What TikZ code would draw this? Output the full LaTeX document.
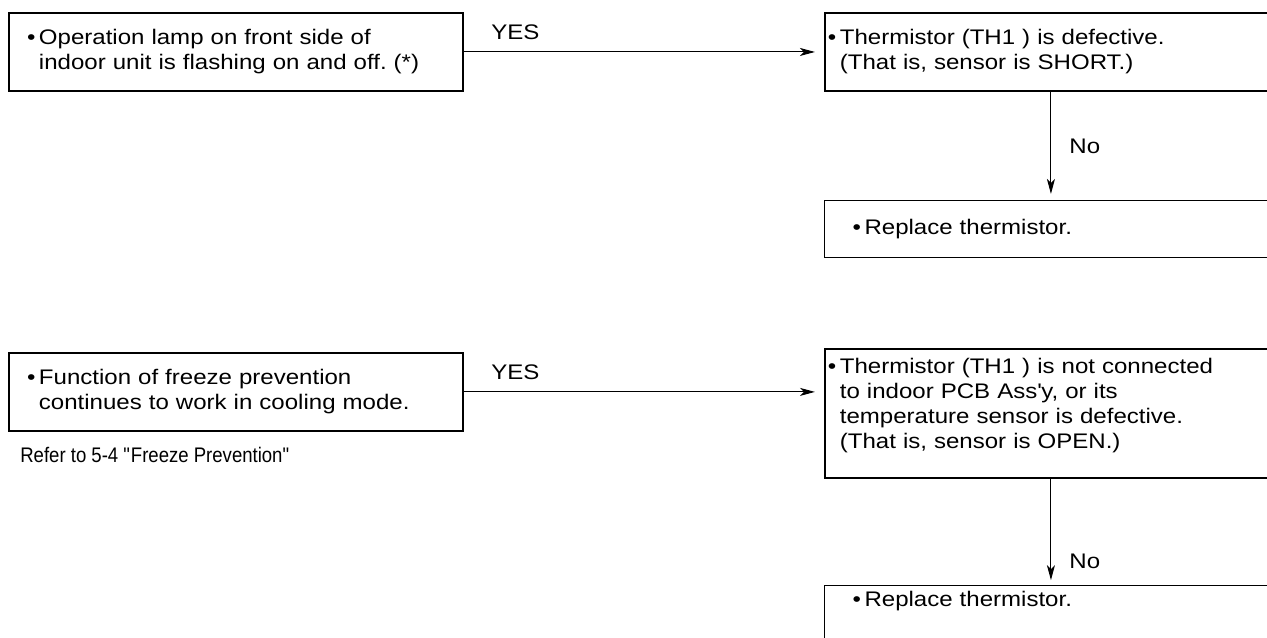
\documentclass[tikz,border=0pt]{standalone}
\usepackage{fontspec}
\setmainfont{Liberation Sans}[FakeStretch=1.14]
\newfontfamily\notefont{Liberation Sans}[FakeStretch=0.88]
\usetikzlibrary{arrows.meta,positioning}
\frenchspacing
\newcommand{\bodyfont}{\fontsize{12pt}{14.2pt}\selectfont}
\newcommand{\bul}{\llap{\textbullet\hspace{2pt}}}
\tikzset{
  >={Stealth[length=3mm,width=1.6mm,inset=0.8mm]},
  box/.style={draw,line width=1.1pt,align=left,font=\bodyfont,inner ysep=0.18cm},
  lbox/.style={box,text width=7.88cm,inner xsep=0.6cm,minimum height=1.56cm},
  rbox/.style={box,text width=12cm,inner xsep=0.3cm},
  abox/.style={box,line width=0.7pt,text width=12cm,inner xsep=0.8cm},
  lab/.style={font=\bodyfont,inner sep=0pt},
  arr/.style={->,line width=0.55pt},
}

\begin{document}
\begin{tikzpicture}
\useasboundingbox (0,0) rectangle (25.34,-12.76);
\clip (0,0) rectangle (25.34,-12.76);
% upper chart: sensor short
\node[lbox,anchor=north west] (lamp) at (0.16,-0.24) {\bul Operation lamp on front side of\\indoor unit is flashing on and off. (*)};
\node[rbox,minimum height=1.56cm,right=7.2cm of lamp] (short) {\bul Thermistor (TH1 ) is defective.\\(That is, sensor is SHORT.)};
\node[abox,minimum height=1.14cm,below=2.16cm of short.south west,anchor=north west] (rep1) {\bul Replace thermistor.};
\draw[arr,shorten >=0.18cm] (lamp) -- node[lab,pos=0,anchor=south west,xshift=0.54cm,yshift=0.24cm] (yes1) {YES} (short);
\draw[arr,shorten >=0.12cm] ([xshift=4.54cm]short.south west) -- node[lab,right=0.36cm] (no1) {No} ([xshift=4.54cm]rep1.north west);
% lower chart: sensor open
\node[lbox,below=5.2cm of lamp] (freeze) {\bul Function of freeze prevention\\continues to work in cooling mode.};
\node[lab,font=\notefont\bodyfont,below=0.3cm of freeze.south west,anchor=north west,xshift=0.24cm] (refer) {Refer to 5-4 \textquotedbl Freeze Prevention\textquotedbl};
\node[rbox,text depth=1.92cm,right=7.2cm of freeze.north east,anchor=north west,yshift=0.08cm] (open) {\bul Thermistor (TH1 ) is not connected\\to indoor PCB Ass\textquotesingle y, or its\\temperature sensor is defective.\\(That is, sensor is OPEN.)};
\node[abox,inner ysep=0.1cm,text depth=2cm,below=2.12cm of open.south west,anchor=north west] (rep2) {\bul Replace thermistor.};
\draw[arr,shorten >=0.18cm] (freeze.east) -- node[lab,pos=0,anchor=south west,xshift=0.54cm,yshift=0.24cm] (yes2) {YES} (freeze.east -| open.west);
\draw[arr,shorten >=0.1cm] ([xshift=4.54cm]open.south west) -- node[lab,right=0.36cm,pos=0.78] (no2) {No} ([xshift=4.54cm]rep2.north west);
\end{tikzpicture}
\end{document}
